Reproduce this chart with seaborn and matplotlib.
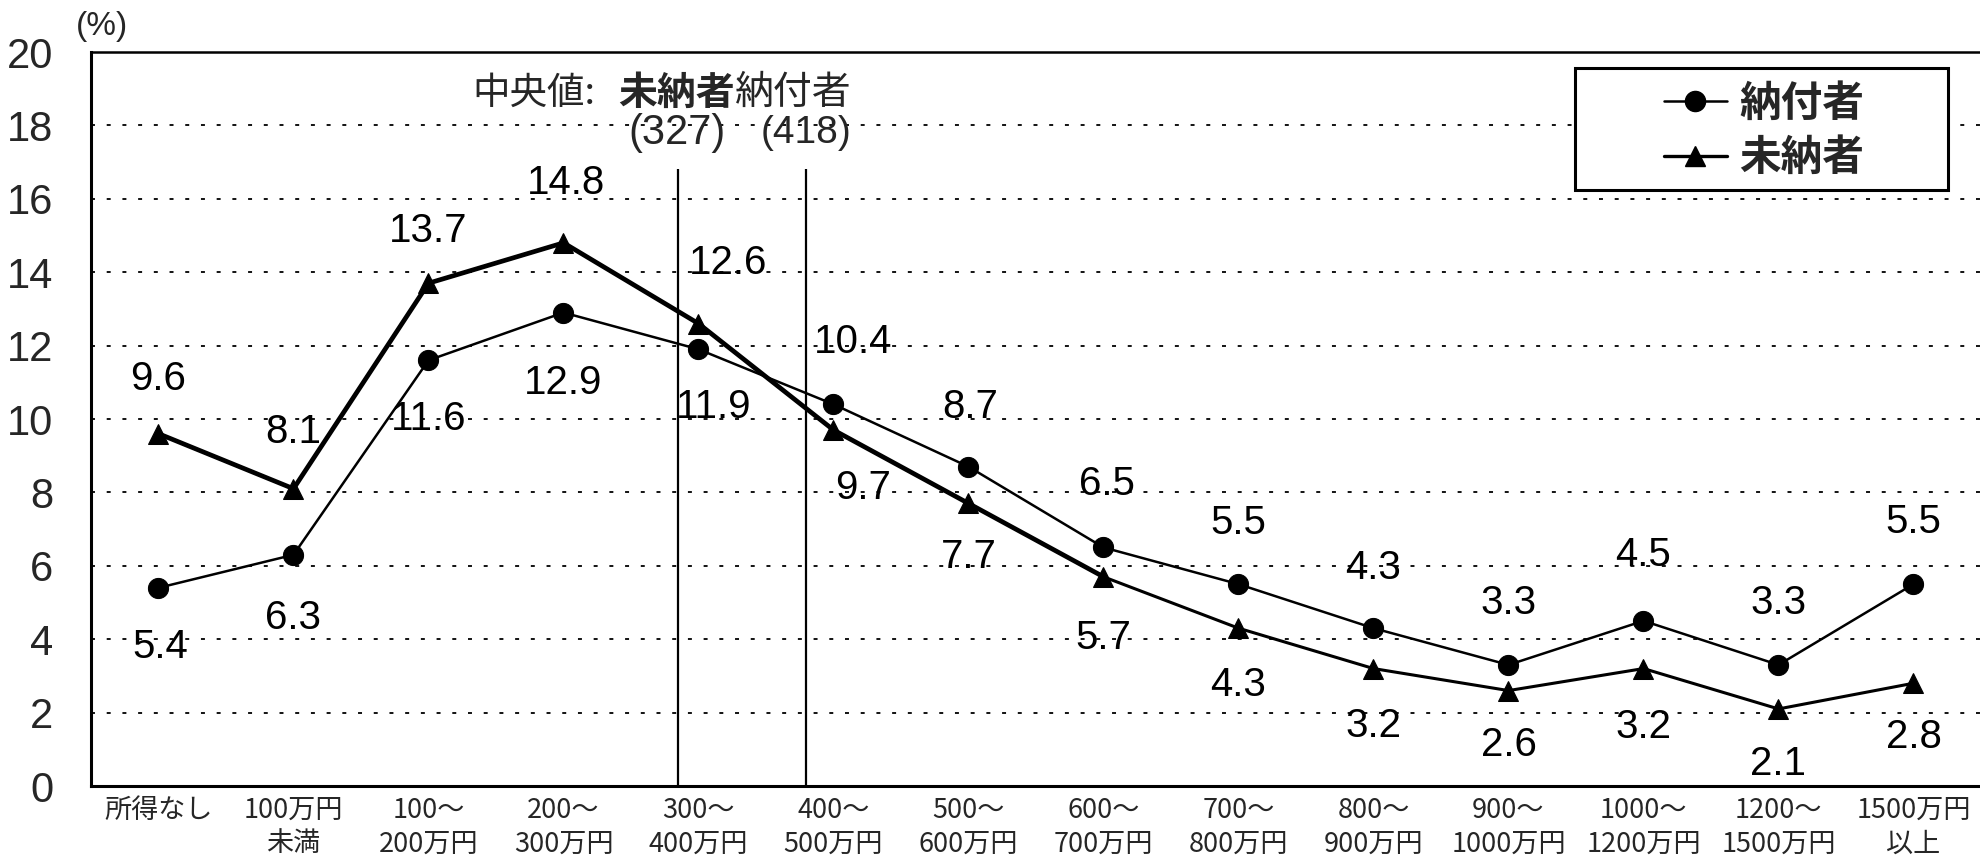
import matplotlib
matplotlib.use("Agg")
import matplotlib.pyplot as plt
import numpy as np
import pandas as pd
import seaborn as sns
from matplotlib.patches import Rectangle
from matplotlib.lines import Line2D

# ---- data ----
categories = ["所得なし", "100万円\n未満", "100～\n200万円", "200～\n300万円",
              "300～\n400万円", "400～\n500万円", "500～\n600万円", "600～\n700万円",
              "700～\n800万円", "800～\n900万円", "900～\n1000万円", "1000～\n1200万円",
              "1200～\n1500万円", "1500万円\n以上"]
paid = [5.4, 6.3, 11.6, 12.9, 11.9, 10.4, 8.7, 6.5, 5.5, 4.3, 3.3, 4.5, 3.3, 5.5]
unpaid = [9.6, 8.1, 13.7, 14.8, 12.6, 9.7, 7.7, 5.7, 4.3, 3.2, 2.6, 3.2, 2.1, 2.8]
series_names = ["納付者", "未納者"]
median_labels = ["(327)", "(418)"]
y_ticks = [0, 2, 4, 6, 8, 10, 12, 14, 16, 18, 20]

# ---- label placement (pixel offsets from each point) ----
paid_dx = [2, 0, 0, 0, 15, 20, 2, 3, 0, 0, 0, 0, 0, 0]
paid_dy = [59, 63, 59, 70, 58, -62, -60, -63, -61, -60, -62, -66, -62, -62]
unpaid_dx = [0, 0, 0, 3, 30, 30, 0, 0, 0, 0, 0, 0, 0, 0]
unpaid_dy = [-55, -57, -52, -60, -61, 58, 54, 61, 57, 57, 54, 58, 55, 54]
median_x = [3.85, 4.80]

W, H = 1981, 861
sns.set_style("white")
plt.rcParams["font.family"] = ["Noto Sans CJK JP", "DejaVu Sans"]

NUM_FONT = ["Liberation Sans", "DejaVu Sans"]
NARROW_FONT = ["Liberation Sans Narrow", "Liberation Sans", "Noto Sans CJK JP"]
TICK_FONT = ["Noto Sans CJK JP", "DejaVu Sans"]

fig = plt.figure(figsize=(W / 100, H / 100), dpi=100)
ax = fig.add_axes([91 / W, 1 - 786 / H, (W - 91) / W, (786 - 52) / H])

x = np.arange(len(categories))
df = pd.DataFrame({"x": x, "paid": paid, "unpaid": unpaid})

# gridlines
for yv in y_ticks[1:-1]:
    ax.axhline(yv, color="black", lw=1.3, ls=(0, (2.2, 6.5)), zorder=0)

# median markers
for mx in median_x:
    ax.vlines(mx, 0, 16.8, color="black", lw=1.6, zorder=1)

# series lines
sns.lineplot(data=df, x="x", y="paid", ax=ax, color="black", lw=1.8,
             marker="o", markersize=14.5, markeredgecolor="black", zorder=3)
sns.lineplot(data=df, x="x", y="unpaid", ax=ax, color="black", lw=2.2,
             marker="^", markersize=15, markeredgecolor="black", zorder=3)
sns.lineplot(data=df.iloc[:8], x="x", y="unpaid", ax=ax, color="black", lw=3.4,
             zorder=3)

# data labels
for vals, dxs, dys in ((paid, paid_dx, paid_dy), (unpaid, unpaid_dx, unpaid_dy)):
    for i, v in enumerate(vals):
        ax.annotate(f"{v:.1f}", (i, v), xytext=(dxs[i], -dys[i]),
                    textcoords="offset pixels", ha="center", va="center",
                    fontsize=29, family=NUM_FONT, color="black", zorder=4)

# axes
ax.set_xlim(-0.5, len(categories) - 0.5)
ax.set_ylim(0, 20)
ax.set_xlabel("")
ax.set_ylabel("")
ax.set_yticks(y_ticks)
ax.set_yticklabels([str(t) for t in y_ticks], family=NARROW_FONT, fontsize=30)
ax.tick_params(axis="y", length=0, pad=27)
ax.set_xticks(x)
ax.set_xticklabels(categories, family=TICK_FONT, fontsize=19.5, linespacing=1.3)
ax.set_xticks(np.arange(0.5, len(categories) - 1, 1.0), minor=True)
ax.tick_params(axis="x", which="major", length=0, pad=8)
ax.tick_params(axis="x", which="minor", direction="in", length=10, width=1.5,
               color="black")
for side in ("left", "bottom", "top"):
    ax.spines[side].set_color("black")
ax.spines["left"].set_linewidth(2.2)
ax.spines["bottom"].set_linewidth(2.2)
ax.spines["top"].set_linewidth(1.8)
ax.spines["right"].set_visible(False)


def fpos(px, py):
    return px / W, 1 - py / H


# unit label
fig.text(*fpos(102, 26), "(%)", ha="center", va="center", fontsize=24,
         family=NARROW_FONT)

# median caption
fig.text(*fpos(472, 93), "中央値:", ha="left", va="center", fontsize=27)
fig.text(*fpos(618, 93), "未納者", ha="left", va="center", fontsize=28,
         fontweight="bold")
fig.text(*fpos(735, 93), "納付者", ha="left", va="center", fontsize=28)
fig.text(*fpos(677, 133), median_labels[0], ha="center", va="center",
         fontsize=30, family=NUM_FONT)
fig.text(*fpos(806, 133), median_labels[1], ha="center", va="center",
         fontsize=28, family=NARROW_FONT)

# legend with square frame
box = Rectangle(fpos(1575, 190), (1948 - 1575) / W, (190 - 68) / H,
                transform=fig.transFigure, facecolor="white", edgecolor="black",
                lw=2.2, zorder=5)
fig.patches.append(box)
handles = [
    Line2D([], [], color="black", lw=1.8, marker="o", markersize=14.5),
    Line2D([], [], color="black", lw=2.4, marker="^", markersize=15),
]
leg = fig.legend(handles, series_names, loc="center",
                 bbox_to_anchor=fpos(1764, 131), frameon=False,
                 handlelength=1.5, handletextpad=0.3, labelspacing=0.3,
                 prop={"family": "Noto Sans CJK JP", "weight": "bold", "size": 30})
leg.set_zorder(6)

fig.savefig("out.png", dpi=100)
